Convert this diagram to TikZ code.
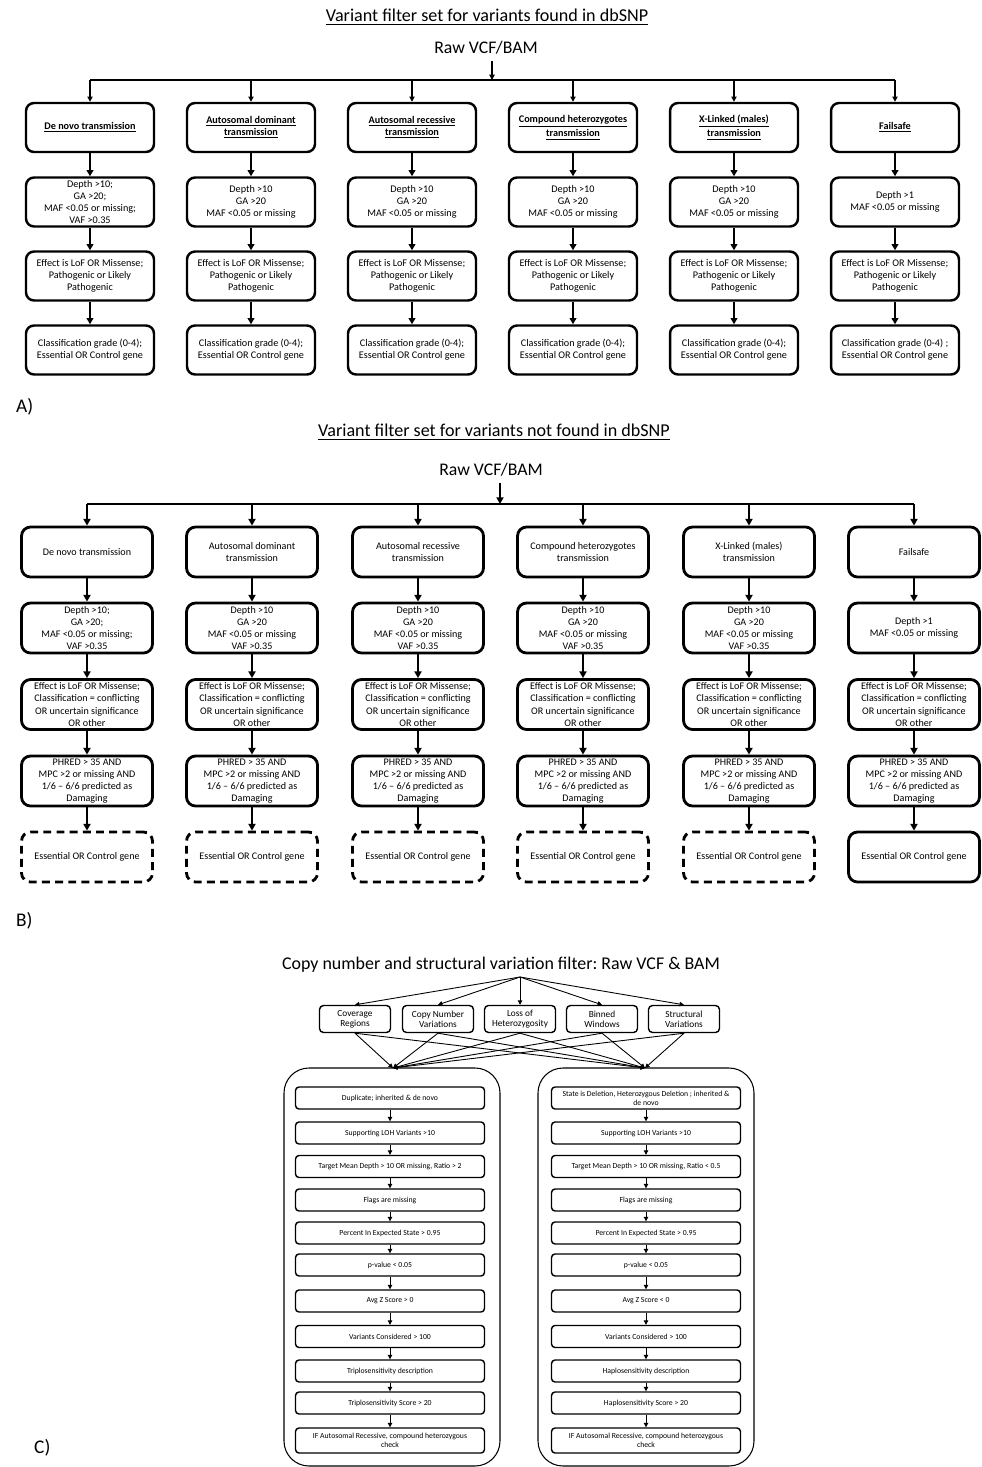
\documentclass[tikz,border=0pt]{standalone}
\usepackage{fontspec}
\setmainfont{Carlito}
\frenchspacing
\usetikzlibrary{arrows.meta}

\tikzset{
  boxA/.style={draw, line width=1.4pt, rounded corners=0.16cm, minimum width=2.56cm, minimum height=0.98cm,
    align=center, inner sep=0pt, font=\fontsize{5.8}{6.8}\selectfont},
  boxB/.style={draw, line width=1.6pt, rounded corners=0.18cm, minimum width=2.62cm, minimum height=1.0cm,
    align=center, inner sep=0pt, font=\fontsize{5.75}{6.9}\selectfont},
  boxBd/.style={boxB, dash pattern=on 4.5pt off 3pt},
  boxCtop/.style={draw, line width=0.8pt, rounded corners=0.08cm, minimum width=1.42cm, minimum height=0.54cm,
    align=center, inner sep=0pt, font=\fontsize{5.3}{5.9}\selectfont},
  boxC/.style={draw, line width=0.8pt, rounded corners=0.07cm, minimum width=3.78cm, minimum height=0.44cm,
    align=center, inner sep=0pt, font=\fontsize{4.4}{5.2}\selectfont},
  container/.style={draw, line width=0.6pt, rounded corners=0.5cm},
  busline/.style={line width=0.7pt},
  dropA/.style={line width=0.7pt, -{Triangle[length=3pt,width=3pt]}},
  arrA/.style={line width=1.4pt, -{Triangle[length=3.5pt,width=3.8pt]}},
  arrB/.style={line width=1.6pt, -{Triangle[length=3.8pt,width=4pt]}},
  arrC/.style={line width=0.5pt, -{Triangle[length=2.5pt,width=2.5pt]}},
  ttl/.style={font=\fontsize{10.3}{12}\selectfont},
  raw/.style={font=\fontsize{10.1}{12}\selectfont},
  lbl/.style={font=\fontsize{11}{13}\selectfont, anchor=west},
}

\begin{document}
\begin{tikzpicture}[x=0.02cm, y=-0.02cm]
  \useasboundingbox (0,0) rectangle (981,1467);

  % === A) variants found in dbSNP ===
  \node[ttl] (titleA) at (487,17) {\underline{Variant filter set for variants found in dbSNP}};
  \node[raw] (rawA) at (486,48) {Raw VCF/BAM};
  \coordinate (busA) at (492,80);

  \node[boxA] (a11) at (90,127.5) {\textbf{\underline{De novo transmission}}};
  \node[boxA] (a21) at (251,127.5) {\textbf{\underline{Autosomal dominant}}\\\textbf{\underline{transmission}}};
  \node[boxA] (a31) at (412,127.5) {\textbf{\underline{Autosomal recessive}}\\\textbf{\underline{transmission}}};
  \node[boxA] (a41) at (573,127.5) {\textbf{\underline{Compound heterozygotes}}\\\textbf{\underline{transmission}}};
  \node[boxA] (a51) at (734,127.5) {\textbf{\underline{X-Linked (males)}}\\\textbf{\underline{transmission}}};
  \node[boxA] (a61) at (895,127.5) {\textbf{\underline{Failsafe}}};

  % depth / GA / MAF
  \node[boxA] (a12) at (90,202) {Depth >10;\\GA >20;\\MAF <0.05 or missing;\\VAF >0.35};
  \node[boxA] (a22) at (251,202) {Depth >10\\GA >20\\MAF <0.05 or missing};
  \node[boxA] (a32) at (412,202) {Depth >10\\GA >20\\MAF <0.05 or missing};
  \node[boxA] (a42) at (573,202) {Depth >10\\GA >20\\MAF <0.05 or missing};
  \node[boxA] (a52) at (734,202) {Depth >10\\GA >20\\MAF <0.05 or missing};
  \node[boxA] (a62) at (895,202) {Depth >1\\MAF <0.05 or missing};

  % effect
  \node[boxA] (a13) at (90,276) {Effect is LoF OR Missense;\\Pathogenic or Likely\\Pathogenic};
  \node[boxA] (a23) at (251,276) {Effect is LoF OR Missense;\\Pathogenic or Likely\\Pathogenic};
  \node[boxA] (a33) at (412,276) {Effect is LoF OR Missense;\\Pathogenic or Likely\\Pathogenic};
  \node[boxA] (a43) at (573,276) {Effect is LoF OR Missense;\\Pathogenic or Likely\\Pathogenic};
  \node[boxA] (a53) at (734,276) {Effect is LoF OR Missense;\\Pathogenic or Likely\\Pathogenic};
  \node[boxA] (a63) at (895,276) {Effect is LoF OR Missense;\\Pathogenic or Likely\\Pathogenic};

  % classification
  \node[boxA] (a14) at (90,350) {Classification grade (0-4);\\Essential OR Control gene};
  \node[boxA] (a24) at (251,350) {Classification grade (0-4);\\Essential OR Control gene};
  \node[boxA] (a34) at (412,350) {Classification grade (0-4);\\Essential OR Control gene};
  \node[boxA] (a44) at (573,350) {Classification grade (0-4);\\Essential OR Control gene};
  \node[boxA] (a54) at (734,350) {Classification grade (0-4);\\Essential OR Control gene};
  \node[boxA] (a64) at (895,350) {Classification grade (0-4) ;\\Essential OR Control gene};

  \draw[dropA] (rawA.south -| busA) -- (busA);
  \draw[busline] (a11.north |- busA) -- (a61.north |- busA);
  \path[dropA] (a11.north |- busA) edge (a11.north) (a21.north |- busA) edge (a21.north)
    (a31.north |- busA) edge (a31.north) (a41.north |- busA) edge (a41.north)
    (a51.north |- busA) edge (a51.north) (a61.north |- busA) edge (a61.north);
  \path[arrA] (a11) edge (a12) (a12) edge (a13) (a13) edge (a14);
  \path[arrA] (a21) edge (a22) (a22) edge (a23) (a23) edge (a24);
  \path[arrA] (a31) edge (a32) (a32) edge (a33) (a33) edge (a34);
  \path[arrA] (a41) edge (a42) (a42) edge (a43) (a43) edge (a44);
  \path[arrA] (a51) edge (a52) (a52) edge (a53) (a53) edge (a54);
  \path[arrA] (a61) edge (a62) (a62) edge (a63) (a63) edge (a64);

  \node[lbl] (labA) at (10,407) {A)};

  % === B) variants not found in dbSNP ===
  \node[ttl] (titleB) at (494,432) {\underline{Variant filter set for variants not found in dbSNP}};
  \node[raw] (rawB) at (491,470) {Raw VCF/BAM};
  \coordinate (busB) at (500,504);

  \node[boxB] (b11) at (87,552) {De novo transmission};
  \node[boxB] (b21) at (252,552) {Autosomal dominant\\transmission};
  \node[boxB] (b31) at (418,552) {Autosomal recessive\\transmission};
  \node[boxB] (b41) at (583,552) {Compound heterozygotes\\transmission};
  \node[boxB] (b51) at (749,552) {X-Linked (males)\\transmission};
  \node[boxB] (b61) at (914,552) {Failsafe};

  \node[boxB] (b12) at (87,628) {Depth >10;\\GA >20;\\MAF <0.05 or missing;\\VAF >0.35};
  \node[boxB] (b22) at (252,628) {Depth >10\\GA >20\\MAF <0.05 or missing\\VAF >0.35};
  \node[boxB] (b32) at (418,628) {Depth >10\\GA >20\\MAF <0.05 or missing\\VAF >0.35};
  \node[boxB] (b42) at (583,628) {Depth >10\\GA >20\\MAF <0.05 or missing\\VAF >0.35};
  \node[boxB] (b52) at (749,628) {Depth >10\\GA >20\\MAF <0.05 or missing\\VAF >0.35};
  \node[boxB] (b62) at (914,628) {Depth >1\\MAF <0.05 or missing};

  \node[boxB] (b13) at (87,704.5) {Effect is LoF OR Missense;\\Classification = conflicting\\OR uncertain significance\\OR other};
  \node[boxB] (b23) at (252,704.5) {Effect is LoF OR Missense;\\Classification = conflicting\\OR uncertain significance\\OR other};
  \node[boxB] (b33) at (418,704.5) {Effect is LoF OR Missense;\\Classification = conflicting\\OR uncertain significance\\OR other};
  \node[boxB] (b43) at (583,704.5) {Effect is LoF OR Missense;\\Classification = conflicting\\OR uncertain significance\\OR other};
  \node[boxB] (b53) at (749,704.5) {Effect is LoF OR Missense;\\Classification = conflicting\\OR uncertain significance\\OR other};
  \node[boxB] (b63) at (914,704.5) {Effect is LoF OR Missense;\\Classification = conflicting\\OR uncertain significance\\OR other};

  \node[boxB] (b14) at (87,781) {PHRED > 35 AND\\MPC >2 or missing AND\\1/6 – 6/6 predicted as\\Damaging};
  \node[boxB] (b24) at (252,781) {PHRED > 35 AND\\MPC >2 or missing AND\\1/6 – 6/6 predicted as\\Damaging};
  \node[boxB] (b34) at (418,781) {PHRED > 35 AND\\MPC >2 or missing AND\\1/6 – 6/6 predicted as\\Damaging};
  \node[boxB] (b44) at (583,781) {PHRED > 35 AND\\MPC >2 or missing AND\\1/6 – 6/6 predicted as\\Damaging};
  \node[boxB] (b54) at (749,781) {PHRED > 35 AND\\MPC >2 or missing AND\\1/6 – 6/6 predicted as\\Damaging};
  \node[boxB] (b64) at (914,781) {PHRED > 35 AND\\MPC >2 or missing AND\\1/6 – 6/6 predicted as\\Damaging};

  % gene lists (dashed = optional)
  \node[boxBd] (b15) at (87,857) {Essential OR Control gene};
  \node[boxBd] (b25) at (252,857) {Essential OR Control gene};
  \node[boxBd] (b35) at (418,857) {Essential OR Control gene};
  \node[boxBd] (b45) at (583,857) {Essential OR Control gene};
  \node[boxBd] (b55) at (749,857) {Essential OR Control gene};
  \node[boxB] (b65) at (914,857) {Essential OR Control gene};

  \draw[arrB] (rawB.south -| busB) -- (busB);
  \draw[line width=1.6pt] (b11.north |- busB) -- (b61.north |- busB);
  \path[arrB] (b11.north |- busB) edge (b11.north) (b21.north |- busB) edge (b21.north)
    (b31.north |- busB) edge (b31.north) (b41.north |- busB) edge (b41.north)
    (b51.north |- busB) edge (b51.north) (b61.north |- busB) edge (b61.north);
  \path[arrB] (b11) edge (b12) (b12) edge (b13) (b13) edge (b14) (b14) edge (b15);
  \path[arrB] (b21) edge (b22) (b22) edge (b23) (b23) edge (b24) (b24) edge (b25);
  \path[arrB] (b31) edge (b32) (b32) edge (b33) (b33) edge (b34) (b34) edge (b35);
  \path[arrB] (b41) edge (b42) (b42) edge (b43) (b43) edge (b44) (b44) edge (b45);
  \path[arrB] (b51) edge (b52) (b52) edge (b53) (b53) edge (b54) (b54) edge (b55);
  \path[arrB] (b61) edge (b62) (b62) edge (b63) (b63) edge (b64) (b64) edge (b65);

  \node[lbl] (labB) at (10,921) {B)};

  % === C) copy number and structural variation ===
  \node[font=\fontsize{10.2}{12}\selectfont] (titleC) at (501,965) {Copy number and structural variation filter: Raw VCF \& BAM};
  \coordinate (srcC) at (520,977);

  \node[boxCtop] (cov) at (355,1019) {Coverage\\Regions};
  \node[boxCtop] (cnv) at (438,1019) {Copy Number\\Variations};
  \node[boxCtop] (loh) at (520,1019) {Loss of\\Heterozygosity};
  \node[boxCtop] (bin) at (602,1019) {Binned\\Windows};
  \node[boxCtop] (sv) at (684,1019) {Structural\\Variations};

  \coordinate (convL) at (393,1068);
  \coordinate (convR) at (645,1068);

  \path[arrC] (srcC) edge (cov.north) (srcC) edge (cnv.north) (srcC) edge (loh.north)
    (srcC) edge (bin.north) (srcC) edge (sv.north);
  \path[arrC] (cov.south) edge (convL) (cnv.south) edge (convL) (loh.south) edge (convL)
    (bin.south) edge (convL) (sv.south) edge (convL);
  \path[arrC] (cov.south) edge (convR) (cnv.south) edge (convR) (loh.south) edge (convR)
    (bin.south) edge (convR) (sv.south) edge (convR);

  % duplications
  \draw[container] (284,1068) rectangle (500,1466);
  \node[boxC] (l1) at (390,1098) {Duplicate; inherited \& de novo};
  \node[boxC] (l2) at (390,1133) {Supporting LOH Variants >10};
  \node[boxC] (l3) at (390,1166.5) {Target Mean Depth > 10 OR missing, Ratio > 2};
  \node[boxC] (l4) at (390,1200) {Flags are missing};
  \node[boxC] (l5) at (390,1233) {Percent In Expected State > 0.95};
  \node[boxC] (l6) at (390,1265) {p-value < 0.05};
  \node[boxC] (l7) at (390,1301) {Avg Z Score > 0};
  \node[boxC] (l8) at (390,1336.5) {Variants Considered > 100};
  \node[boxC] (l9) at (390,1371) {Triplosensitivity description};
  \node[boxC] (l10) at (390,1403) {Triplosensitivity Score > 20};
  \node[boxC, minimum height=0.5cm] (l11) at (390,1440.5) {IF Autosomal Recessive, compound heterozygous\\check};
  \path[arrC] (l1) edge (l2) (l2) edge (l3) (l3) edge (l4) (l4) edge (l5) (l5) edge (l6)
    (l6) edge (l7) (l7) edge (l8) (l8) edge (l9) (l9) edge (l10) (l10) edge (l11);

  % deletions
  \draw[container] (538,1068) rectangle (754,1466);
  \node[boxC] (r1) at (646,1098) {State is Deletion, Heterozygous Deletion ; inherited \&\\de novo};
  \node[boxC] (r2) at (646,1133) {Supporting LOH Variants >10};
  \node[boxC] (r3) at (646,1166.5) {Target Mean Depth > 10 OR missing, Ratio < 0.5};
  \node[boxC] (r4) at (646,1200) {Flags are missing};
  \node[boxC] (r5) at (646,1233) {Percent In Expected State > 0.95};
  \node[boxC] (r6) at (646,1265) {p-value < 0.05};
  \node[boxC] (r7) at (646,1301) {Avg Z Score < 0};
  \node[boxC] (r8) at (646,1336.5) {Variants Considered > 100};
  \node[boxC] (r9) at (646,1371) {Haplosensitivity description};
  \node[boxC] (r10) at (646,1403) {Haplosensitivity Score > 20};
  \node[boxC, minimum height=0.5cm] (r11) at (646,1440.5) {IF Autosomal Recessive, compound heterozygous\\check};
  \path[arrC] (r1) edge (r2) (r2) edge (r3) (r3) edge (r4) (r4) edge (r5) (r5) edge (r6)
    (r6) edge (r7) (r7) edge (r8) (r8) edge (r9) (r9) edge (r10) (r10) edge (r11);

  \node[lbl] (labC) at (28,1448) {C)};
\end{tikzpicture}
\end{document}
